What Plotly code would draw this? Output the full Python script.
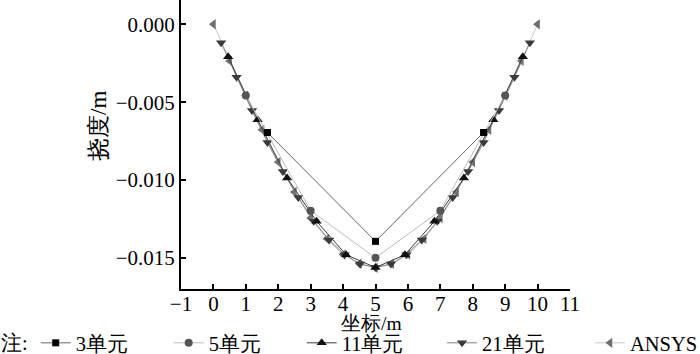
import plotly.graph_objects as go

# ---- data ----
x3 = [1.667, 5.0, 8.333]
y3 = [-0.00695, -0.01394, -0.00695]

x5 = [1.0, 3.0, 5.0, 7.0, 9.0]
y5 = [-0.00458, -0.01197, -0.01500, -0.01197, -0.00458]

x11 = [0.455, 1.364, 2.273, 3.182, 4.091, 5.0, 5.909, 6.818, 7.727, 8.636, 9.545]
y11 = [-0.00208, -0.00613, -0.00987, -0.01265, -0.01480, -0.01562,
       -0.01480, -0.01265, -0.00987, -0.00613, -0.00208]

x21 = [0.238, 0.714, 1.190, 1.667, 2.143, 2.619, 3.095, 3.571, 4.048, 4.524, 5.0,
       5.476, 5.952, 6.429, 6.905, 7.381, 7.857, 8.333, 8.810, 9.286, 9.762]
y21 = [-0.00118, -0.00340, -0.00554, -0.00759, -0.00945, -0.01112, -0.01265, -0.01385,
       -0.01480, -0.01540, -0.01562, -0.01540, -0.01480, -0.01385, -0.01265, -0.01112,
       -0.00945, -0.00759, -0.00554, -0.00340, -0.00118]

xa = [0.0, 0.5, 1.0, 1.5, 2.0, 2.5, 3.0, 3.5, 4.0, 4.5, 5.0,
      5.5, 6.0, 6.5, 7.0, 7.5, 8.0, 8.5, 9.0, 9.5, 10.0]
ya = [0.0, -0.00235, -0.00458, -0.00678, -0.00885, -0.01077, -0.01244, -0.01378,
      -0.01479, -0.01538, -0.01564, -0.01538, -0.01479, -0.01378, -0.01244, -0.01077,
      -0.00885, -0.00678, -0.00458, -0.00235, 0.0]

names = ["3单元", "5单元", "11单元", "21单元", "ANSYS"]
xticks = list(range(-1, 12))
yticks = [0.0, -0.005, -0.010, -0.015]

FONT = "'Liberation Serif', 'Times New Roman', serif"

# plot-area geometry in pixels
L, R, T, B = 181, 130, 0, 65
PW = 700 - L - R
PH = 354 - T - B


def px_x(p):
    return (p - L) / PW


def px_y(p):
    return (354 - B - p) / PH


fig = go.Figure()
fig.add_trace(go.Scatter(x=xa, y=ya, name=names[4], mode="lines+markers", legend="legend2",
                         line=dict(color="#c8c8c8", width=1),
                         marker=dict(symbol="triangle-left", size=9, color="#6e6e6e")))
fig.add_trace(go.Scatter(x=x21, y=y21, name=names[3], mode="lines+markers", legend="legend2",
                         line=dict(color="#808080", width=1),
                         marker=dict(symbol="triangle-down", size=9, color="#3a3a3a")))
fig.add_trace(go.Scatter(x=x11, y=y11, name=names[2], mode="lines+markers", legend="legend",
                         line=dict(color="#3c3c3c", width=1),
                         marker=dict(symbol="triangle-up", size=9, color="#111111")))
fig.add_trace(go.Scatter(x=x5, y=y5, name=names[1], mode="lines+markers", legend="legend",
                         line=dict(color="#bdbdbd", width=1),
                         marker=dict(symbol="circle", size=8, color="#555555")))
fig.add_trace(go.Scatter(x=x3, y=y3, name=names[0], mode="lines+markers", legend="legend",
                         line=dict(color="#666666", width=1),
                         marker=dict(symbol="square", size=7, color="#000000")))

LEG_FONT = 20.5
legend_common = dict(orientation="h", yanchor="middle", y=px_y(343), xanchor="left",
                     traceorder="reversed", itemwidth=30,
                     font=dict(size=LEG_FONT, family=FONT, color="#000"),
                     bgcolor="rgba(0,0,0,0)", borderwidth=0)

fig.update_layout(
    width=700, height=354,
    margin=dict(l=L, r=R, t=T, b=B, autoexpand=False),
    paper_bgcolor="white", plot_bgcolor="white",
    font=dict(family=FONT, size=21, color="#000"),
    showlegend=True,
    legend=dict(**legend_common, x=px_x(-1), entrywidth=88,
                title=dict(text="注:", side="left", font=dict(size=LEG_FONT, family=FONT))),
    legend2=dict(**legend_common, x=px_x(442), entrywidth=103),
    xaxis=dict(range=[-1, 11], tickvals=xticks, ticks="inside", ticklen=5,
               tickwidth=1.5, tickcolor="#000", showline=True, linecolor="#000",
               linewidth=2, showgrid=False, zeroline=False, ticklabelstandoff=-5,
               tickfont=dict(size=21, family=FONT)),
    yaxis=dict(range=[-0.017, 0.00156], tickvals=yticks, tickformat=".3f",
               ticks="inside", ticklen=5, tickwidth=1.5, tickcolor="#000",
               showline=True, linecolor="#000", linewidth=2, showgrid=False,
               zeroline=False, tickfont=dict(size=21, family=FONT)),
    annotations=[
        dict(text="坐标/m", xref="paper", yref="paper", x=px_x(371), y=px_y(323.5),
             xanchor="center", yanchor="middle", showarrow=False,
             font=dict(size=19.5, family=FONT)),
        dict(text="挠度/m", xref="paper", yref="paper", x=px_x(98), y=px_y(126),
             xanchor="center", yanchor="middle", textangle=-90, showarrow=False,
             font=dict(size=23, family=FONT)),
    ],
)

fig.write_html("out.html")
